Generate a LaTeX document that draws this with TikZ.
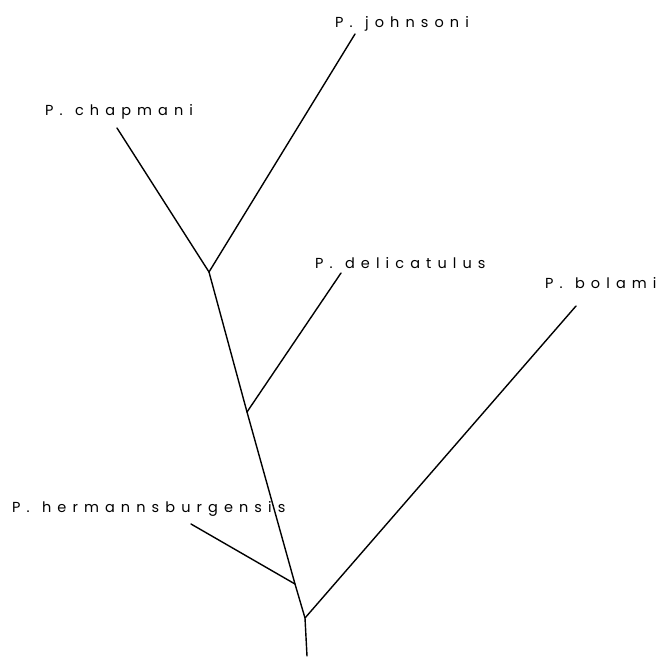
\documentclass[tikz,border=0pt]{standalone}
\usepackage{fontspec}
\newfontfamily\taxonfont[LetterSpace=42]{Poppins}
\begin{document}
\begin{tikzpicture}[x=1pt,y=-1pt,
  branch/.style={line width=1.4pt,line cap=round},
  taxon/.style={anchor=base west,inner sep=0pt,font=\taxonfont\fontsize{14.5}{17}\selectfont}]
\useasboundingbox (0,0) rectangle (664,656);
% branch points and tips
\coordinate (base) at (307,656);
\coordinate (root) at (305,618);
\coordinate (jh) at (295,584);
\coordinate (jd) at (247,412);
\coordinate (jcj) at (209,272);
\coordinate (tj) at (355,34);
\coordinate (tc) at (117,128);
\coordinate (td) at (341,273);
\coordinate (tb) at (576,306);
\coordinate (th) at (191,524);
% taxon labels
\node[taxon] (lj) at (335,27) {P.\, johnsoni};
\node[taxon] (lc) at (45,115) {P.\, chapmani};
\node[taxon] (ld) at (315,268) {P.\, delicatulus};
\node[taxon] (lb) at (545,288) {P.\, bolami};
\node[taxon] (lh) at (12,512) {P.\, hermannsburgensis};
% tree
\draw[branch] (base) -- (root) -- (jh) -- (jd) -- (jcj);
\draw[branch] (jcj) -- (tj);
\draw[branch] (jcj) -- (tc);
\draw[branch] (jd) -- (td);
\draw[branch] (root) -- (tb);
\draw[branch] (jh) -- (th);
\end{tikzpicture}
\end{document}
